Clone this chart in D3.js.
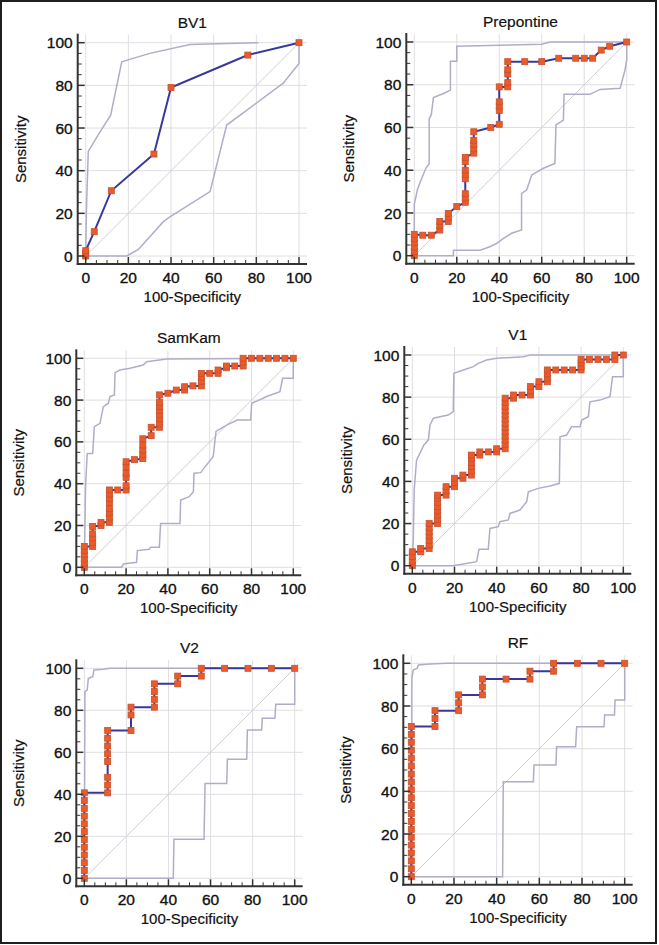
<!DOCTYPE html>
<html>
<head>
<meta charset="utf-8">
<script src="https://cdn.jsdelivr.net/npm/d3@7"></script>
<style>
  html, body { margin: 0; padding: 0; background: #fff; }
  svg { display: block; }
  text { font-family: "Liberation Sans", Arial, sans-serif; fill: #111; }
</style>
</head>
<body>
<svg id="chart" width="659" height="945"></svg>
<script>
// ---------------- DATA ----------------
const titles = ["BV1", "Prepontine", "SamKam", "V1", "V2", "RF"];
const xAxisTitle = "100-Specificity";
const yAxisTitle = "Sensitivity";
const majorTicks = [0, 20, 40, 60, 80, 100];
const minorTicks = [5, 10, 15, 25, 30, 35, 45, 50, 55, 65, 70, 75, 85, 90, 95];

// ROC curves: [100-Specificity, Sensitivity]
const bv1Roc = [[0,0],[0,1.2],[0,2.5],[4,11.4],[12,30.6],[32,47.8],[40,79],[76,94.2],[100,100]];
const bv1Upper = [[0,0],[0.3,20],[1.2,49],[6,57],[11.7,66],[16.9,91],[30,95],[48.9,99.2],[81,100]];
const bv1Lower = [[0,0],[19.2,0],[24.7,3.1],[36.4,16.1],[39.5,18.4],[58.3,30.2],[66.1,61.4],[92.6,81],[100,90.3],[100,100]];

const prepRoc = [[0,0],[0,2],[0,4],[0,6],[0,8],[0,10],[4,9.6],[8,9.6],[12,12],[12,14],[12,16],[16,16],[16,18],[16,19.8],[20,23],
  [24,25],[24,27],[24,29],[24,36],[24,38],[24,40],[24,44],[24,46],[28,48],[28,50],[28,52],[28,54],[28,58],[36,60],
  [40,61.5],[40,68],[40,70],[40,72],[40,79],[44,79],[44,81],[44,85],[44,87],[44,90.8],[52,90.8],[60,90.8],[68,92.4],
  [76,92.4],[80,92.4],[84,92.4],[88,96.2],[92,98],[100,100]];
const prepUpper = [[0,0],[0,24],[1.5,31],[3,35],[5.5,41],[7,43],[7,64],[8,66],[9,74],[14,76],[17,77.5],[17,91],[20,91],[20,98],[40,98.5],[60,99],[64,100],[100,100]];
const prepLower = [[0,0],[18.4,0],[18.4,2.6],[31,2.6],[35.6,4.2],[38.8,5.8],[42,8.1],[45.8,10.5],[50.5,12],[50.5,29.2],[52.9,30.7],[55.3,37.8],
  [60.8,40.9],[66.2,43.2],[66.7,61.2],[70.2,63.5],[70.5,75.5],[82.7,75.5],[87.4,77.8],[96.9,78.3],[99.2,86.9],[100,91.6],[100,100]];

const samRoc = [[0,0],[0,2],[0,4],[0,6],[0,8],[0,10],[4,10],[4,12],[4,14],[4,16],[4,19.5],[8,20],[8,21.5],[12,21.5],[12,24],[12,26],
  [12,28],[12,31],[12,33],[12,35],[12,37],[16,37],[20,37],[20,39],[20,43],[20,45],[20,48],[20,50.5],[24,51.5],[28,52],[28,54],
  [28,56],[28,58.5],[28,61.5],[32,63],[32,67],[36,67],[36,69],[36,71],[36,73],[36,75],[36,77],[36,79],[36,82.5],[40,83.3],
  [44,84.8],[48,84.8],[48,86.4],[52,86.8],[56,86.8],[56,89],[56,91],[56,92.8],[60,92.8],[64,92.8],[64,94.4],[68,95.5],
  [68,96.3],[72,96.3],[76,96.3],[76,98.2],[76,100],[80,100],[84,100],[88,100],[92,100],[96,100],[100,100]];
const samUpper = [[0,0],[0.6,38.6],[1.4,54.5],[4,54.5],[4.8,67.3],[7.5,68.9],[9.1,76.9],[11.5,78.5],[12.3,81.7],[14.4,82.5],[14.7,93.1],
  [17,94.4],[21.8,95.2],[28.2,96.8],[29.8,98.4],[39.4,99.7],[100,100]];
const samLower = [[0,0],[17.9,0],[18.7,1.6],[25,2.4],[25.4,8],[31.1,8.6],[31.7,9.6],[35.9,9.6],[36.5,21],[45.8,21],[46.1,32.2],[50.2,33.8],
  [52.2,36.2],[52.5,45],[55.7,45.3],[58.5,49],[61.7,53],[63,65],[68.1,68],[73.2,70.5],[79.6,70.5],[80.1,78.5],[85.6,80.9],[87.2,81.7],
  [93.6,84],[94.9,90.4],[100,90.4],[100,100]];

const v1Roc = [[0,0],[0,2.2],[0,4.4],[0,6.6],[4,6.6],[4,8.2],[8,8.2],[8,10],[8,12],[8,14],[8,16],[8,18],[8,20],[12,20],[12,22],[12,24],
  [12,26],[12,28],[12,30],[12,32],[12,33.5],[16,33.5],[16,35.5],[16,37.5],[20,37.5],[20,39.5],[20,41.5],[24,41.5],[24,43],[28,43],
  [28,45],[28,47],[28,49],[28,51],[28,52.5],[32,52.5],[32,54],[36,54],[40,54],[40,55.5],[44,55.5],[44,57.5],[44,59.5],[44,61.5],
  [44,63.5],[44,65.5],[44,67.5],[44,69.5],[44,71.5],[44,73.5],[44,75.5],[44,77.5],[44,79.5],[48,79.5],[48,81],[52,81],[56,81],
  [56,83],[56,85],[60,85],[60,87.3],[64,87.3],[64,89],[64,91],[64,92.9],[68,92.9],[72,92.9],[76,92.9],[80,92.9],[80,94.5],
  [80,96.2],[80,97.9],[84,97.9],[88,97.9],[92,97.9],[96,97.9],[96,100],[100,100]];
const v1Upper = [[0,0],[0.5,13.8],[0.9,36],[2,50],[3.6,53.3],[5.5,57.3],[7.6,59.6],[8.4,66.8],[10,70],[13.1,70.7],[17,71.5],[19.4,73.1],
  [19.7,91.3],[24.2,92.9],[28.9,94.5],[31.3,96],[35.2,97.6],[40,98.4],[52.6,99.2],[55.8,100],[100,100]];
const v1Lower = [[0,0],[19,0],[24.2,0.8],[30.5,1.9],[31.6,7.8],[36,7.8],[36.8,17.7],[40.8,18.5],[41.5,20.9],[45.5,21.7],[46.3,24.8],
  [51,26.4],[54.2,30.4],[55,35.1],[59.7,36.7],[65.2,37.8],[69.7,39.1],[70,61.2],[73.1,62],[75.5,66],[79.5,66],[80.3,69.1],
  [83.4,70.7],[84.2,77.8],[88.9,78.6],[93.7,80.2],[94.9,89.7],[100,89.7],[100,100]];

const v2Roc = [[0,0],[0,3.7],[0,7.4],[0,11.1],[0,14.8],[0,18.5],[0,22.2],[0,25.9],[0,29.6],[0,33.3],[0,37],[0,40.7],
  [11.1,40.7],[11.1,44.4],[11.1,48.1],[11.1,55.6],[11.1,59.3],[11.1,63],[11.1,66.7],[11.1,70.4],[22.2,70.4],[22.2,77.8],
  [22.2,81.5],[33.3,81.5],[33.3,85.2],[33.3,88.9],[33.3,92.6],[44.4,92.6],[44.4,96.3],[55.6,96.3],[55.6,100],[66.7,100],
  [77.8,100],[88.9,100],[100,100]];
const v2Upper = [[0,0],[0.3,88.9],[1.4,89.7],[1.9,95.2],[4,96],[4.6,99.2],[9,99.5],[12.2,100],[100,100]];
const v2Lower = [[0,0],[42.3,0],[42.6,18.6],[56.9,18.6],[57.4,45.2],[67.7,45.2],[68,56.7],[77.2,56.7],[77.5,70.6],[84.3,70.6],
  [84.6,76.2],[90.6,76.2],[91,82.9],[100,82.9],[100,100]];

const rfRoc = [[0,0],[0,3.7],[0,7.4],[0,11.1],[0,14.8],[0,18.5],[0,22.2],[0,25.9],[0,29.6],[0,33.3],[0,37],[0,40.7],[0,44.4],
  [0,48.1],[0,51.9],[0,55.6],[0,59.3],[0,63],[0,66.7],[0,70.4],[11.1,70.4],[11.1,74.1],[11.1,77.8],[22.2,77.8],[22.2,81.5],
  [22.2,85.2],[33.3,85.2],[33.3,88.9],[33.3,92.6],[44.4,92.6],[55.6,92.6],[55.6,96.3],[66.7,96.3],[66.7,100],[77.8,100],
  [88.9,100],[100,100]];
const rfUpper = [[0,0],[0.3,93],[0.9,96.9],[2.8,97.7],[3.3,99.2],[8.8,99.7],[16.6,100],[100,100]];
const rfLower = [[0,0],[42.8,0],[43.1,44.5],[57.2,44.5],[57.5,52.3],[67.8,52.3],[68.1,60.9],[77,60.9],[77.5,70.3],[90.3,70.3],
  [90.6,75.8],[95.2,75.8],[95.5,82.8],[100,82.8],[100,100]];

// ---------------- LAYOUT (pixel frames of each panel's data area) ----------------
const layout = [
  {x0: 85.7, x1: 299.0, yTop: 42.7, yBot: 256.0},
  {x0: 414.3, x1: 626.7, yTop: 42.0, yBot: 255.7},
  {x0: 84.3, x1: 293.3, yTop: 358.3, yBot: 567.3},
  {x0: 412.3, x1: 623.3, yTop: 355.0, yBot: 565.7},
  {x0: 84.3, x1: 294.7, yTop: 668.3, yBot: 878.3},
  {x0: 411.3, x1: 624.7, yTop: 663.3, yBot: 876.7}
];

const panels = [
  {roc: bv1Roc, upper: bv1Upper, lower: bv1Lower},
  {roc: prepRoc, upper: prepUpper, lower: prepLower},
  {roc: samRoc, upper: samUpper, lower: samLower},
  {roc: v1Roc, upper: v1Upper, lower: v1Lower},
  {roc: v2Roc, upper: v2Upper, lower: v2Lower},
  {roc: rfRoc, upper: rfUpper, lower: rfLower}
];

// ---------------- DRAW ----------------
const svg = d3.select("#chart");
svg.append("rect").attr("x", 1).attr("y", 1).attr("width", 655).attr("height", 942)
  .attr("fill", "#fff").attr("stroke", "#1e1e1e").attr("stroke-width", 2);

const OFF = 8;
const colors = {grid: "#dedee4", diag: "#cfcfd4", ci: "#aeaec8", roc: "#38389c",
  markFill: "#ec5a2a", markStroke: "#c4522e", axis: "#333"};

panels.forEach((p, i) => {
  const L = layout[i];
  const x = d3.scaleLinear().domain([0, 100]).range([L.x0, L.x1]);
  const y = d3.scaleLinear().domain([0, 100]).range([L.yBot, L.yTop]);
  const g = svg.append("g");
  const axX = L.x0 - OFF, axY = L.yBot + OFF;

  // grid
  g.append("g").selectAll("line.v").data(majorTicks).join("line")
    .attr("x1", d => x(d)).attr("x2", d => x(d))
    .attr("y1", L.yTop - OFF).attr("y2", axY)
    .attr("stroke", colors.grid).attr("stroke-width", 1);
  g.append("g").selectAll("line.h").data(majorTicks).join("line")
    .attr("y1", d => y(d)).attr("y2", d => y(d))
    .attr("x1", axX).attr("x2", L.x1 + OFF)
    .attr("stroke", colors.grid).attr("stroke-width", 1);

  // diagonal
  g.append("line").attr("x1", x(0)).attr("y1", y(0)).attr("x2", x(100)).attr("y2", y(100))
    .attr("stroke", colors.diag).attr("stroke-width", 1);

  const line = d3.line().x(d => x(d[0])).y(d => y(d[1]));

  // confidence bounds
  [p.upper, p.lower].forEach(b => {
    g.append("path").datum(b).attr("d", line).attr("fill", "none")
      .attr("stroke", colors.ci).attr("stroke-width", 1.5);
  });

  // ROC line
  g.append("path").datum(p.roc).attr("d", line).attr("fill", "none")
    .attr("stroke", colors.roc).attr("stroke-width", 2);

  // markers
  const ms = 6;
  g.append("g").selectAll("rect").data(p.roc).join("rect")
    .attr("x", d => x(d[0]) - ms / 2).attr("y", d => y(d[1]) - ms / 2)
    .attr("width", ms).attr("height", ms)
    .attr("fill", colors.markFill).attr("stroke", colors.markStroke).attr("stroke-width", 0.8);

  // axes lines
  g.append("line").attr("x1", axX).attr("x2", axX).attr("y1", L.yTop - OFF - 1).attr("y2", axY + 1)
    .attr("stroke", colors.axis).attr("stroke-width", 2);
  g.append("line").attr("x1", axX - 1).attr("x2", L.x1 + OFF).attr("y1", axY).attr("y2", axY)
    .attr("stroke", colors.axis).attr("stroke-width", 2);

  // ticks (inward)
  g.append("g").selectAll("line").data(majorTicks).join("line")
    .attr("x1", axX).attr("x2", axX + 7).attr("y1", d => y(d)).attr("y2", d => y(d))
    .attr("stroke", colors.axis).attr("stroke-width", 1.5);
  g.append("g").selectAll("line").data(minorTicks).join("line")
    .attr("x1", axX).attr("x2", axX + 4).attr("y1", d => y(d)).attr("y2", d => y(d))
    .attr("stroke", colors.axis).attr("stroke-width", 1);
  g.append("g").selectAll("line").data(majorTicks).join("line")
    .attr("y1", axY).attr("y2", axY - 7).attr("x1", d => x(d)).attr("x2", d => x(d))
    .attr("stroke", colors.axis).attr("stroke-width", 1.5);
  g.append("g").selectAll("line").data(minorTicks).join("line")
    .attr("y1", axY).attr("y2", axY - 4).attr("x1", d => x(d)).attr("x2", d => x(d))
    .attr("stroke", colors.axis).attr("stroke-width", 1);

  // tick labels
  g.append("g").selectAll("text").data(majorTicks).join("text")
    .attr("x", axX - 5).attr("y", d => y(d)).attr("dy", "0.36em")
    .attr("text-anchor", "end").attr("font-size", 15.5)
    .attr("stroke", "#111").attr("stroke-width", 0.35).text(d => d);
  g.append("g").selectAll("text").data(majorTicks).join("text")
    .attr("x", d => x(d)).attr("y", axY + 19)
    .attr("text-anchor", "middle").attr("font-size", 15.5)
    .attr("stroke", "#111").attr("stroke-width", 0.35).text(d => d);

  // titles
  g.append("text").attr("x", (L.x0 + L.x1) / 2).attr("y", L.yTop - 15)
    .attr("text-anchor", "middle").attr("font-size", 15.5)
    .attr("stroke", "#111").attr("stroke-width", 0.2).text(titles[i]);
  g.append("text").attr("x", (L.x0 + L.x1) / 2).attr("y", L.yBot + 46)
    .attr("text-anchor", "middle").attr("font-size", 15)
    .attr("stroke", "#111").attr("stroke-width", 0.2).text(xAxisTitle);
  g.append("text")
    .attr("transform", `translate(${L.x0 - 60},${(L.yTop + L.yBot) / 2}) rotate(-90)`)
    .attr("text-anchor", "middle").attr("font-size", 15)
    .attr("stroke", "#111").attr("stroke-width", 0.2).text(yAxisTitle);
});
</script>
</body>
</html>
